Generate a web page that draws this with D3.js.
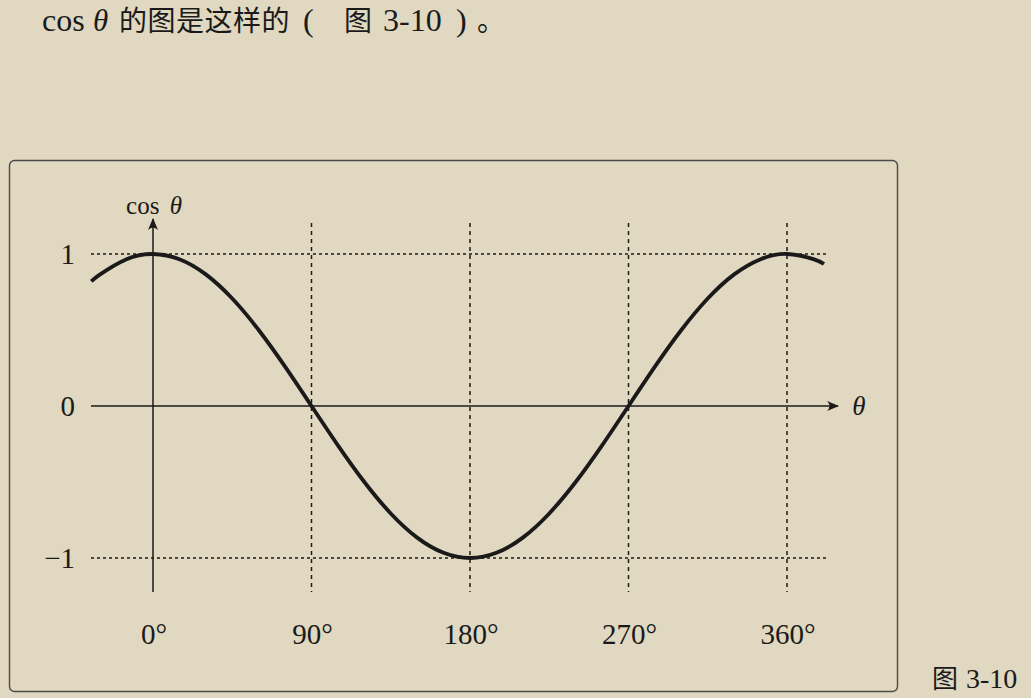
<!DOCTYPE html>
<html>
<head>
<meta charset="utf-8">
<script src="https://cdn.jsdelivr.net/npm/d3@7"></script>
<style>
  html, body { margin: 0; padding: 0; background: #e0d8c0; }
  svg { display: block; }
</style>
</head>
<body>
<div id="chart"></div>
<script>
// angle ticks (degrees) and their labels
const xTicks = [0, 90, 180, 270, 360];
const xTickLabels = ["0°", "90°", "180°", "270°", "360°"];
// value ticks
const yTicks = [-1, 0, 1];
const yTickLabels = ["\u22121", "0", "1"];

// points (angle in degrees, cos value)
const curveAngles = [-35, -30, -15, 0, 15, 30, 45, 60, 75, 90, 105, 120, 135, 150, 165, 180,
  195, 210, 225, 240, 255, 270, 285, 300, 315, 330, 345, 360, 375, 381];
const curveValues = [0.82, 0.866, 0.966, 1, 0.966, 0.866, 0.707, 0.5, 0.259, 0, -0.259, -0.5, -0.707, -0.866, -0.966, -1,
  -0.966, -0.866, -0.707, -0.5, -0.259, 0, 0.259, 0.5, 0.707, 0.866, 0.966, 1, 0.966, 0.934];

const width = 1031;
const height = 698;
const ink = "#1a1a1a";
const serif = "Liberation Serif";
const cjk = "Noto Sans CJK SC";

const svg = d3.select("#chart")
  .append("svg")
  .attr("width", width)
  .attr("height", height);

// page background
svg.append("rect")
  .attr("width", width)
  .attr("height", height)
  .attr("fill", "#e0d8c0");

// heading line of the page, one text per run
const headParts = [
  {t: "cos", x: 42, f: serif, s: 32},
  {t: "θ", x: 93, f: serif, s: 31, it: true},
  {t: "的图是这样的", x: 119, f: cjk, s: 28},
  {t: "(", x: 303, f: serif, s: 32},
  {t: "图", x: 344, f: cjk, s: 28},
  {t: "3-10", x: 383, f: serif, s: 32},
  {t: ")", x: 456, f: serif, s: 32},
  {t: "。", x: 477, f: cjk, s: 28}
];
svg.selectAll(".head")
  .data(headParts)
  .enter()
  .append("text")
  .attr("class", "head")
  .attr("x", d => d.x)
  .attr("y", 31)
  .attr("font-family", d => d.f)
  .attr("font-size", d => d.s)
  .attr("font-style", d => d.it ? "italic" : "normal")
  .attr("letter-spacing", d => d.f === cjk ? 0.5 : 0)
  .attr("fill", ink)
  .text(d => d.t);

// frame around the figure
svg.append("rect")
  .attr("x", 9.5)
  .attr("y", 160.5)
  .attr("width", 888)
  .attr("height", 531)
  .attr("rx", 5)
  .attr("fill", "none")
  .attr("stroke", "#4a4a4a")
  .attr("stroke-width", 1.4);

// scales
const x = d3.scaleLinear().domain([0, 360]).range([153, 787]);
const y = d3.scaleLinear().domain([-1, 1]).range([558, 254]);

// arrow marker
const defs = svg.append("defs");
defs.append("marker")
  .attr("id", "arrow")
  .attr("viewBox", "0 0 12 10")
  .attr("refX", 11)
  .attr("refY", 5)
  .attr("markerWidth", 12)
  .attr("markerHeight", 10)
  .attr("markerUnits", "userSpaceOnUse")
  .attr("orient", "auto")
  .append("path")
  .attr("d", "M0,0 Q5,5 0,10 L12,5 Z")
  .attr("fill", ink);

const xMin = 91, xMax = 826;

// horizontal dashed guides at 1 and -1
svg.selectAll(".hguide")
  .data(yTicks.filter(d => d !== 0))
  .enter()
  .append("line")
  .attr("class", "hguide")
  .attr("x1", xMin)
  .attr("x2", xMax)
  .attr("y1", d => y(d))
  .attr("y2", d => y(d))
  .attr("stroke", ink)
  .attr("stroke-width", 1.5)
  .attr("stroke-dasharray", "3,3");

// vertical dashed guides
svg.selectAll(".vguide")
  .data(xTicks.filter(d => d !== 0))
  .enter()
  .append("line")
  .attr("class", "vguide")
  .attr("x1", d => x(d))
  .attr("x2", d => x(d))
  .attr("y1", 223)
  .attr("y2", 592)
  .attr("stroke", ink)
  .attr("stroke-width", 1.5)
  .attr("stroke-dasharray", "4,4");

// x axis with arrow
svg.append("line")
  .attr("x1", xMin)
  .attr("x2", 838)
  .attr("y1", y(0))
  .attr("y2", y(0))
  .attr("stroke", ink)
  .attr("stroke-width", 1.5)
  .attr("marker-end", "url(#arrow)");

// y axis with arrow
svg.append("line")
  .attr("x1", x(0))
  .attr("x2", x(0))
  .attr("y1", 592)
  .attr("y2", 219)
  .attr("stroke", ink)
  .attr("stroke-width", 1.5)
  .attr("marker-end", "url(#arrow)");

// cosine curve
const pts = curveAngles.map((a, i) => [a, curveValues[i]]);
const line = d3.line()
  .x(d => x(d[0]))
  .y(d => y(d[1]))
  .curve(d3.curveNatural);

svg.append("path")
  .datum(pts)
  .attr("d", line)
  .attr("fill", "none")
  .attr("stroke", ink)
  .attr("stroke-width", 3.8)
  .attr("stroke-linecap", "butt");

// y tick labels
svg.selectAll(".ylab")
  .data(yTicks)
  .enter()
  .append("text")
  .attr("class", "ylab")
  .attr("font-family", serif)
  .attr("x", 75)
  .attr("y", d => y(d))
  .attr("dy", "0.35em")
  .attr("text-anchor", "end")
  .attr("font-size", 29)
  .attr("fill", ink)
  .text((d, i) => yTickLabels[i]);

// x tick labels
svg.selectAll(".xlab")
  .data(xTicks)
  .enter()
  .append("text")
  .attr("class", "xlab")
  .attr("font-family", serif)
  .attr("x", d => x(d) + 1)
  .attr("y", 644)
  .attr("text-anchor", "middle")
  .attr("font-size", 29)
  .attr("fill", ink)
  .text((d, i) => xTickLabels[i]);

// axis titles
const yTitle = svg.append("text")
  .attr("font-family", serif)
  .attr("x", x(0) + 1)
  .attr("y", 214)
  .attr("text-anchor", "middle")
  .attr("font-size", 25)
  .attr("fill", ink);
yTitle.append("tspan").text("cos ");
yTitle.append("tspan").attr("dx", 4).attr("font-style", "italic").text("θ");

svg.append("text")
  .attr("font-family", serif)
  .attr("x", 859)
  .attr("y", 415)
  .attr("text-anchor", "middle")
  .attr("font-size", 27)
  .attr("font-style", "italic")
  .attr("fill", ink)
  .text("θ");

// figure caption
svg.append("text")
  .attr("x", 932)
  .attr("y", 688)
  .attr("font-family", cjk)
  .attr("font-size", 26)
  .attr("fill", ink)
  .text("图");
svg.append("text")
  .attr("x", 966)
  .attr("y", 688)
  .attr("font-family", serif)
  .attr("font-size", 28)
  .attr("fill", ink)
  .text("3-10");
</script>
</body>
</html>
